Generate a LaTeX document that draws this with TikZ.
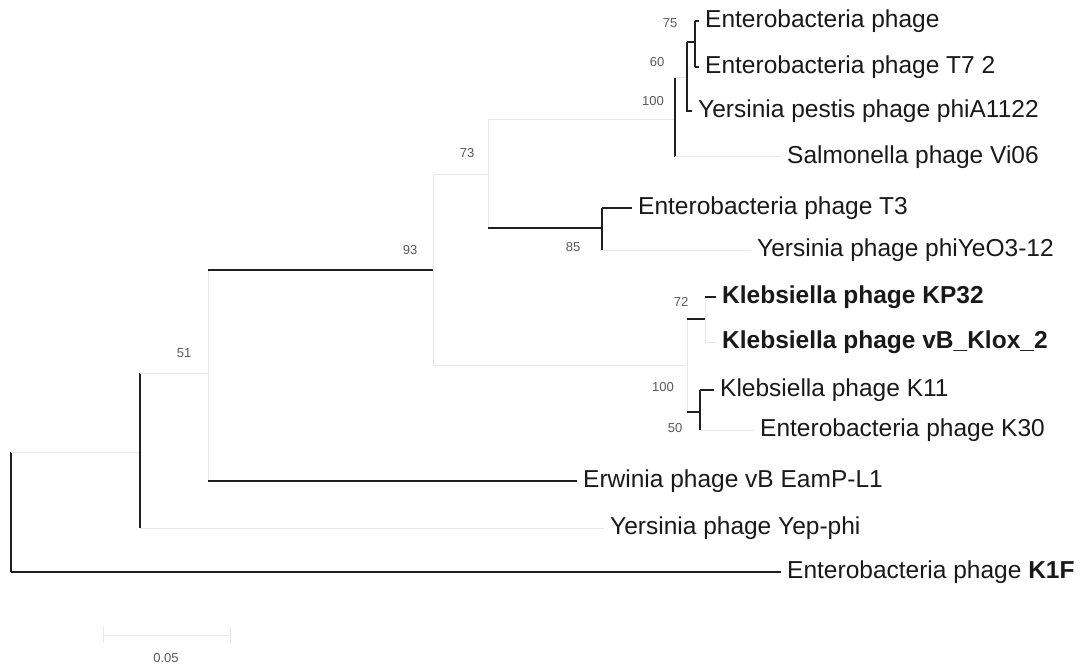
\documentclass[tikz,border=0pt]{standalone}
\usepackage{fontspec}
\setmainfont{Liberation Sans}
\begin{document}
\begin{tikzpicture}[x=1pt,y=-1pt,
  blk/.style={draw=black!88,line width=1.3pt},
  faint/.style={draw=black!9,line width=1pt},
  leaf/.style={anchor=west,inner xsep=6pt,inner ysep=0pt,font=\fontsize{24.5}{26}\selectfont,text=black!90},
  boot/.style={inner sep=0pt,font=\fontsize{13}{14}\selectfont,text=black!65}]
\useasboundingbox (0,0) rectangle (1091,668);
% internal nodes
\coordinate (root) at (11,512);
\coordinate (A) at (140,452);
\coordinate (B) at (208,373);
\coordinate (C) at (433,270);
\coordinate (D) at (488,175);
\coordinate (E) at (675,120);
\coordinate (G) at (687,78);
\coordinate (H) at (695,42);
\coordinate (F) at (602,228);
\coordinate (K) at (687,365);
\coordinate (M) at (705,319);
\coordinate (N) at (700,412);
% leaves
\node[leaf] (l1) at (699,21) {Enterobacteria phage};
\node[leaf] (l2) at (699,67) {Enterobacteria phage T7 2};
\node[leaf] (l3) at (692,111) {Yersinia pestis phage phiA1122};
\node[leaf] (l4) at (781,157) {Salmonella phage Vi06};
\node[leaf] (l5) at (632,208) {Enterobacteria phage T3};
\node[leaf] (l6) at (751,250) {Yersinia phage phiYeO3-12};
\node[leaf] (l7) at (716,297) {\bfseries Klebsiella phage KP32};
\node[leaf] (l8) at (716,342) {\bfseries Klebsiella phage vB\_Klox\_2};
\node[leaf] (l9) at (714,390) {Klebsiella phage K11};
\node[leaf] (l10) at (754,430) {Enterobacteria phage K30};
\node[leaf] (l11) at (577,481) {Erwinia phage vB EamP-L1};
\node[leaf] (l12) at (604,528) {Yersinia phage Yep-phi};
\node[leaf] (l13) at (781,572) {Enterobacteria phage \textbf{K1F}};
% root
\draw[blk] (root |- A) -- (root |- l13.west);
\draw[faint] (root |- A) -- (A);
\draw[blk] (root |- l13.west) -- (l13.west);
% A
\draw[blk] (A |- B) -- (A |- l12.west);
\draw[faint] (A |- B) -- (B);
\draw[faint] (A |- l12.west) -- (l12.west);
% B
\draw[faint] (B |- C) -- (B |- l11.west);
\draw[blk] (B |- C) -- (C);
\draw[blk] (B |- l11.west) -- (l11.west);
% C
\draw[faint] (C |- D) -- (C |- K);
\draw[faint] (C |- D) -- (D);
\draw[faint] (C |- K) -- (K);
% D
\draw[faint] (D |- E) -- (D |- F);
\draw[faint] (D |- E) -- (E);
\draw[blk] (D |- F) -- (F);
% F
\draw[blk] (F |- l5.west) -- (F |- l6.west);
\draw[blk] (F |- l5.west) -- (l5.west);
\draw[faint] (F |- l6.west) -- (l6.west);
% E
\draw[blk] (E |- G) -- (E |- l4.west);
\draw[faint] (E |- l4.west) -- (l4.west);
\draw[faint] (E |- G) -- (G);
% G
\draw[blk] (G |- H) -- (G |- l3.west) -- (l3.west);
\draw[blk] (G |- H) -- (H);
% H
\draw[blk] (H |- l1.west) -- (H |- l2.west);
\draw[blk] (H |- l1.west) -- (l1.west);
\draw[blk] (H |- l2.west) -- (l2.west);
% K
\draw[faint] (K |- M) -- (K |- N);
\draw[blk] (K |- M) -- (M);
\draw[blk] (K |- N) -- (N);
% M
\draw[faint] (M |- l7.west) -- (M |- l8.west);
\draw[blk] (M |- l7.west) -- (l7.west);
\draw[faint] (M |- l8.west) -- (l8.west);
% N
\draw[blk] (N |- l9.west) -- (N |- l10.west);
\draw[blk] (N |- l9.west) -- (l9.west);
\draw[faint] (N |- l10.west) -- (l10.west);
% bootstrap values
\node[boot] (b75) at (670,23) {75};
\node[boot] (b60) at (657,62) {60};
\node[boot] (b100a) at (653,101) {100};
\node[boot] (b73) at (467,153) {73};
\node[boot] (b85) at (573,247) {85};
\node[boot] (b93) at (410,250) {93};
\node[boot] (b72) at (681,302) {72};
\node[boot] (b100b) at (663,387) {100};
\node[boot] (b50) at (675,428) {50};
\node[boot] (b51) at (184,353) {51};
% scale bar
\coordinate (s1) at (103,635);
\coordinate (s2) at (230,635);
\draw[faint] (s1) -- (s2);
\draw[faint] ([yshift=-8pt]s1) -- ([yshift=8pt]s1);
\draw[faint] ([yshift=-8pt]s2) -- ([yshift=8pt]s2);
\node[boot] (sl) at (166,658) {0.05};
\end{tikzpicture}
\end{document}
